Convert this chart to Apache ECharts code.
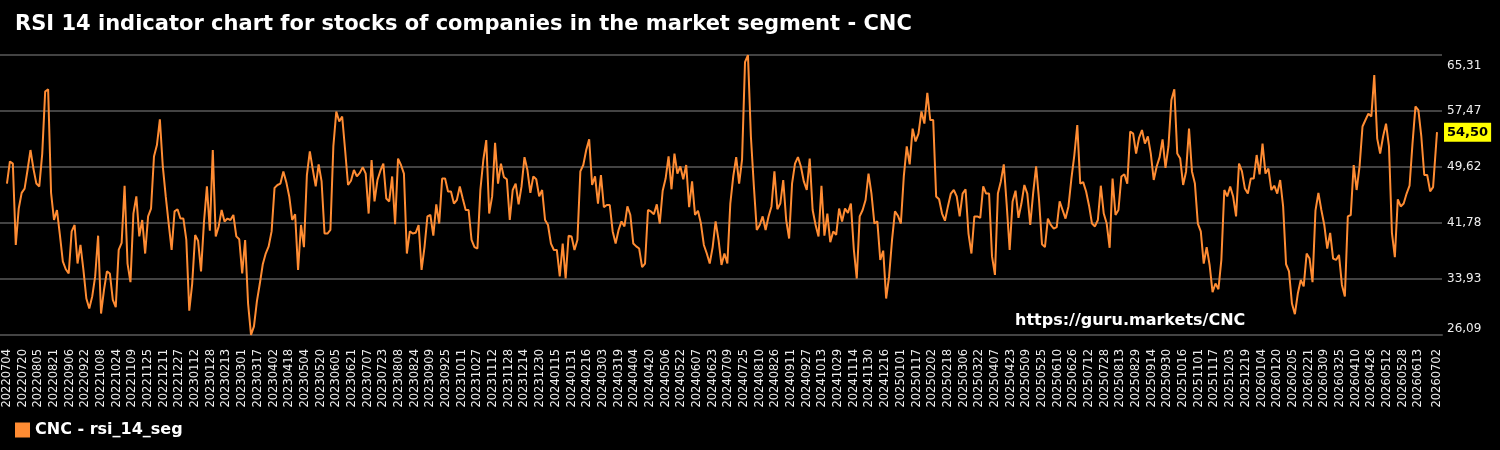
<!DOCTYPE html>
<html>
<head>
<meta charset="utf-8">
<script src="https://cdn.jsdelivr.net/npm/echarts@6/dist/echarts.min.js"></script>
<style>
html, body { margin: 0; padding: 0; background: #000; }
#main { width: 1500px; height: 450px; }
</style>
</head>
<body>
<div id="main"></div>
<script>
// calendar days 2022-07-04 .. 2026-07-02
var startDate = [2022, 6, 4];
var dayCount = 1460;
var labelStep = 16;
// one reading every 3 days
var sampleStep = 3;
var rsiValues = [
  47.3, 50.4, 50.1, 38.7, 43.8, 46.0, 46.6, 49.2, 52.0, 49.4, 47.3, 46.9, 51.5, 60.2, 60.5, 46.0, 42.2, 43.6, 40.1, 36.4, 35.3, 34.7, 40.6, 41.5, 36.1,
  38.7, 35.2, 31.2, 29.8, 31.5, 34.3, 40.0, 29.1, 32.4, 35.0, 34.7, 31.0, 30.0, 38.0, 39.0, 47.0, 36.1, 33.5, 43.1, 45.5, 39.9, 42.2, 37.5, 42.7,
  43.8, 51.1, 52.7, 56.3, 49.7, 45.5, 41.7, 38.0, 43.4, 43.7, 42.4, 42.4, 39.4, 29.5, 33.3, 40.1, 39.3, 35.0, 41.9, 46.9, 40.7, 52.0, 39.9, 41.3, 43.6,
  42.0, 42.4, 42.2, 42.9, 39.9, 39.5, 34.7, 39.4, 30.5, 26.1, 27.3, 30.8, 33.3, 36.0, 37.5, 38.5, 40.6, 46.7, 47.1, 47.3, 49.0, 47.5, 45.5, 42.2,
  43.0, 35.2, 41.5, 38.4, 48.5, 51.8, 49.3, 46.9, 50.0, 47.6, 40.3, 40.3, 40.8, 52.5, 57.4, 56.0, 56.7, 52.0, 47.1, 47.7, 49.2, 48.3, 48.8, 49.6, 48.7,
  43.1, 50.6, 44.8, 47.8, 49.1, 50.1, 45.2, 44.8, 48.3, 41.6, 50.8, 49.9, 48.7, 37.5, 40.6, 40.3, 40.4, 41.5, 35.2, 38.4, 42.7, 42.9, 40.0, 44.4,
  41.7, 48.0, 48.0, 46.2, 46.2, 44.5, 45.0, 46.9, 45.2, 43.6, 43.6, 39.4, 38.4, 38.2, 46.4, 50.6, 53.4, 43.1, 45.5, 53.0, 47.3, 50.1, 48.2, 47.9, 42.2,
  46.4, 47.3, 44.4, 46.9, 51.0, 49.2, 46.0, 48.3, 47.9, 45.5, 46.4, 42.2, 41.5, 38.9, 38.0, 38.0, 34.3, 38.9, 34.0, 40.0, 39.9, 38.0, 39.4, 49.0,
  49.9, 52.0, 53.5, 47.1, 48.3, 44.5, 48.5, 44.0, 44.3, 44.3, 40.6, 38.9, 40.8, 42.0, 41.3, 44.1, 42.9, 38.9, 38.5, 38.2, 35.6, 36.1, 43.6, 43.4, 43.0,
  44.4, 41.7, 46.3, 48.0, 51.1, 46.5, 51.5, 48.7, 49.7, 47.9, 49.9, 44.0, 47.6, 42.9, 43.5, 41.7, 38.7, 37.5, 36.1, 38.4, 42.0, 39.4, 35.9, 37.5,
  36.1, 44.5, 48.3, 51.0, 47.3, 50.7, 64.3, 65.3, 53.9, 47.0, 40.8, 41.5, 42.7, 40.8, 42.7, 44.1, 49.0, 43.7, 44.5, 47.8, 42.2, 39.6, 47.3, 50.1, 51.0,
  49.7, 47.6, 46.4, 50.8, 43.6, 41.5, 39.9, 47.0, 40.0, 43.1, 39.1, 40.6, 40.1, 43.8, 42.0, 43.8, 43.2, 44.5, 38.1, 34.0, 42.7, 43.6, 45.0, 48.7,
  45.9, 41.7, 42.0, 36.6, 37.9, 31.2, 34.3, 39.4, 43.4, 42.8, 41.7, 48.3, 52.5, 50.0, 55.0, 53.2, 54.3, 57.4, 55.7, 60.0, 56.2, 56.2, 45.5, 45.1, 43.1,
  42.1, 44.1, 45.9, 46.4, 45.5, 42.7, 45.9, 46.5, 40.3, 37.5, 42.7, 42.7, 42.5, 46.9, 45.9, 45.9, 37.1, 34.5, 45.9, 47.6, 50.0, 44.3, 38.0, 44.8,
  46.3, 42.5, 44.5, 47.1, 45.9, 41.5, 46.0, 49.7, 45.0, 38.8, 38.4, 42.4, 41.5, 41.0, 41.2, 44.8, 43.6, 42.4, 44.1, 48.0, 51.3, 55.5, 47.3, 47.5, 46.2,
  44.2, 41.7, 41.3, 42.2, 47.0, 43.1, 41.7, 38.3, 48.0, 42.9, 43.6, 48.3, 48.6, 47.3, 54.6, 54.3, 51.5, 53.7, 54.8, 52.9, 53.9, 51.5, 47.8, 49.7,
  51.0, 53.5, 49.5, 52.5, 59.0, 60.5, 51.5, 50.8, 47.1, 49.0, 55.0, 49.0, 47.3, 41.7, 40.6, 36.1, 38.4, 35.9, 32.1, 33.3, 32.5, 36.6, 46.4, 45.5, 46.9,
  45.5, 42.7, 50.1, 49.0, 46.6, 45.9, 48.0, 48.0, 51.3, 48.6, 52.9, 48.7, 49.4, 46.4, 47.0, 45.9, 47.8, 44.1, 36.0, 35.0, 30.5, 29.0, 31.9, 33.8,
  32.9, 37.5, 36.8, 33.5, 43.5, 46.0, 43.6, 41.5, 38.2, 40.4, 36.8, 36.6, 37.3, 33.1, 31.5, 42.7, 42.9, 49.9, 46.4, 49.7, 55.3, 56.2, 57.1, 56.7, 62.5,
  53.6, 51.5, 53.9, 55.7, 52.5, 40.4, 37.0, 45.1, 44.1, 44.5, 45.9, 47.0, 52.9, 58.1, 57.6, 53.9, 48.5, 48.5, 46.2, 46.8
];
var lastValue = 54.50;
var yMin = 26.09;
var yMax = 65.31;

function dayLabel(i) {
  var d = new Date(Date.UTC(startDate[0], startDate[1], startDate[2] + Math.round(i)));
  var m = String(d.getUTCMonth() + 1).padStart(2, '0');
  var dd = String(d.getUTCDate()).padStart(2, '0');
  return d.getUTCFullYear() + m + dd;
}
function comma(v) { return v.toFixed(2).replace('.', ','); }

var labelDays = [];
for (var i = 0; i <= dayCount - 1 - labelStep; i += labelStep) labelDays.push(i);
labelDays.push(dayCount - 1);

var seriesData = rsiValues.map(function (v, k) { return [k * sampleStep, v]; });
seriesData.push([dayCount - 1, lastValue]);

var myChart = echarts.init(document.getElementById('main'));
myChart.setOption({
  backgroundColor: '#000',
  animation: false,
  textStyle: { fontFamily: 'DejaVu Sans' },
  title: {
    text: 'RSI 14 indicator chart for stocks of companies in the market segment - CNC',
    left: 15,
    top: 14,
    padding: 0,
    textStyle: { color: '#fff', fontSize: 21, fontWeight: 'bold', fontFamily: 'DejaVu Sans' }
  },
  legend: {
    left: 15,
    bottom: 12,
    padding: 0,
    icon: 'rect',
    itemWidth: 15,
    itemHeight: 15,
    textStyle: { color: '#fff', fontSize: 16, fontWeight: 'bold' },
    data: ['CNC - rsi_14_seg']
  },
  grid: { left: 0, right: 58, top: 55, bottom: 115 },
  graphic: [{
    type: 'text',
    left: 1015,
    top: 313,
    style: { text: 'https://guru.markets/CNC', fill: '#fff', font: 'bold 16px "DejaVu Sans"' }
  }],
  xAxis: {
    type: 'value',
    min: -7.1,
    max: 1464.1,
    splitLine: { show: false },
    axisTick: { show: false },
    axisLine: { show: true, onZero: false, lineStyle: { color: '#444', width: 2 } },
    axisLabel: {
      customValues: labelDays,
      rotate: 90,
      color: '#eee',
      fontSize: 11.5,
      margin: 14,
      formatter: function (v) { return dayLabel(v); }
    }
  },
  yAxis: {
    type: 'value',
    position: 'right',
    min: yMin,
    max: yMax,
    interval: (yMax - yMin) / 5,
    axisLine: { show: false },
    axisTick: { show: false },
    splitLine: { lineStyle: { color: '#5a5a5a', width: 1.5 } },
    axisLabel: {
      color: '#eee',
      fontSize: 12,
      margin: 5,
      verticalAlignMinLabel: 'bottom',
      verticalAlignMaxLabel: 'top',
      formatter: function (v) {
        return Math.abs(v - yMax) < 0.01 ? '{top|' + comma(v) + '}' : comma(v);
      },
      rich: { top: { color: '#eee', fontSize: 12, padding: [5, 0, 0, 0] } }
    }
  },
  series: [{
    name: 'CNC - rsi_14_seg',
    type: 'line',
    data: seriesData,
    showSymbol: false,
    lineStyle: { color: '#ff8c33', width: 2 },
    itemStyle: { color: '#ff8c33' },
    markLine: {
      silent: true,
      symbol: 'none',
      lineStyle: { color: 'rgba(0,0,0,0)', width: 0 },
      data: [{ yAxis: lastValue }],
      label: {
        show: true,
        position: 'end',
        distance: 2,
        formatter: function () { return comma(lastValue); },
        backgroundColor: '#ffff00',
        color: '#000',
        fontWeight: 'bold',
        fontSize: 13,
        padding: [4, 3, 2, 3]
      }
    }
  }]
});
</script>
</body>
</html>
